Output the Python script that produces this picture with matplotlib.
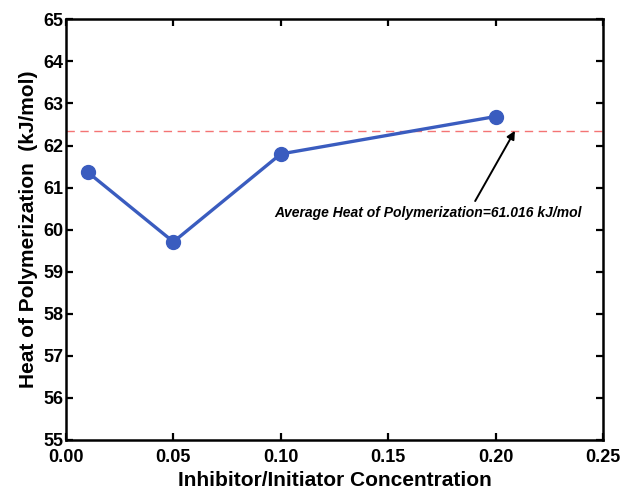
import matplotlib
matplotlib.use("Agg")
import matplotlib.pyplot as plt

plt.rcParams['font.family'] = ['Liberation Sans', 'DejaVu Sans']

# Inhibitor/initiator ratio vs. measured heat of polymerization
concentration = [0.01, 0.05, 0.10, 0.20]
heat_kj_mol = [61.37, 59.71, 61.80, 62.69]
average_line = 62.35
annotation_text = "Average Heat of Polymerization=61.016 kJ/mol"
x_ticks = [0.00, 0.05, 0.10, 0.15, 0.20, 0.25]
y_ticks = [55, 56, 57, 58, 59, 60, 61, 62, 63, 64, 65]

fig = plt.figure(figsize=(6.2, 4.96), dpi=100)
ax = fig.add_axes([0.1065, 0.113, 0.866, 0.848])

ax.axhline(average_line, color='#f47474', lw=1.0, ls=(0, (6, 4)))
ax.plot(concentration, heat_kj_mol, color='#3a5cbf', lw=2.4,
        marker='o', markersize=10, markerfacecolor='#3a5cbf',
        markeredgecolor='#3a5cbf', zorder=3)

# arrow from the caption up to the average line
ax.annotate("", xy=(0.209, average_line), xytext=(0.1905, 60.68),
            arrowprops=dict(arrowstyle='-|>', color='black', lw=1.4,
                            mutation_scale=12, shrinkA=0, shrinkB=0))
ax.text(0.1685, 60.40, annotation_text, ha='center', va='center',
        fontsize=10, fontweight='bold', fontstyle='italic')

ax.set_xlim(0, 0.25)
ax.set_ylim(55, 65)
ax.set_xticks(x_ticks)
ax.set_xticklabels([f"{t:.2f}" for t in x_ticks])
ax.set_yticks(y_ticks)
ax.set_yticklabels([str(t) for t in y_ticks])

ax.tick_params(direction='in', length=5, width=1.6, top=True, right=True,
               labelsize=13)
ax.tick_params(axis='x', pad=6.5)
ax.tick_params(axis='y', pad=2)
for lbl in ax.get_xticklabels() + ax.get_yticklabels():
    lbl.set_fontweight('bold')
for sp in ax.spines.values():
    sp.set_linewidth(1.8)

ax.set_xlabel("Inhibitor/Initiator Concentration", fontsize=15, fontweight='bold', labelpad=3.5)
ax.set_ylabel("Heat of Polymerization  (kJ/mol)", fontsize=15, fontweight='bold', labelpad=4)

fig.savefig("out.png", dpi=100)
